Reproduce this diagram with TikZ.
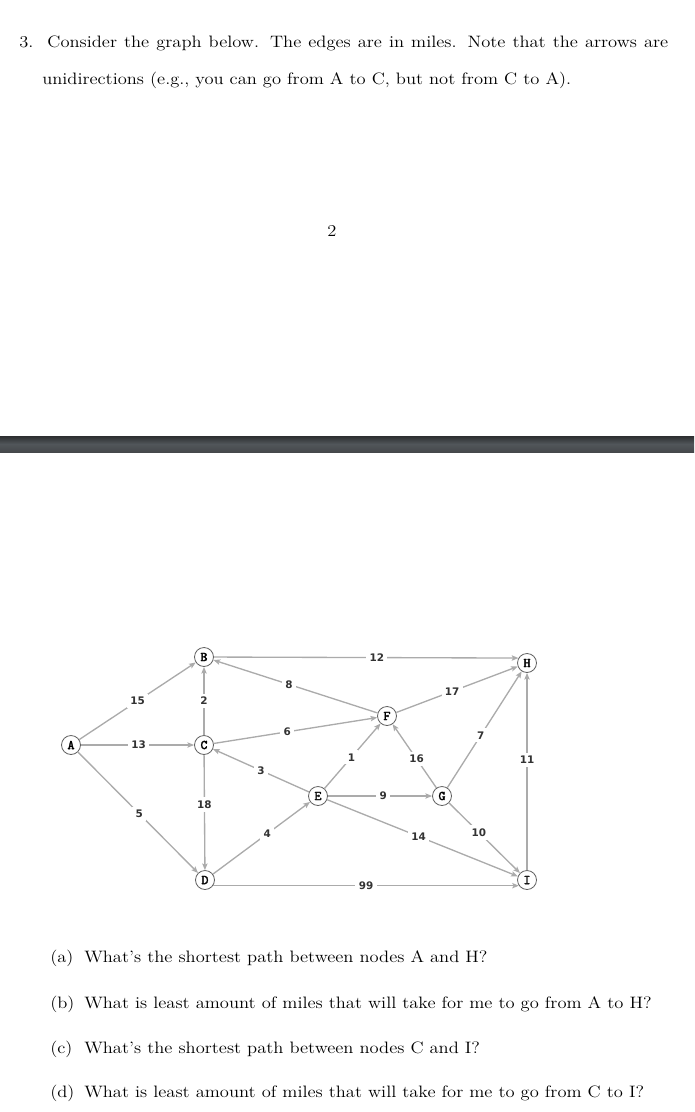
\documentclass[tikz,border=0pt]{standalone}
\usepackage{fontspec}
\newfontfamily\lblfont{DejaVu Sans}
\newfontfamily\bodyfont{Latin Modern Roman}[Ligatures=TeX,FakeStretch=1.12]
\newfontfamily\vfont{Latin Modern Mono}[FakeBold=2.5]
\usetikzlibrary{arrows.meta}
\definecolor{bartop}{HTML}{2C2E30}
\definecolor{barmid}{HTML}{51565A}
\definecolor{barbot}{HTML}{45484B}
\begin{document}
\begin{tikzpicture}[x=0.75pt,y=-0.75pt,
  vtx/.style={circle, draw=black!62, line width=0.6pt, fill=white, minimum size=14.25pt, inner sep=0pt,
    font=\vfont\fontsize{10}{10}\selectfont},
  edge/.style={draw=black!33, line width=1pt, -{Stealth[length=5pt,width=4pt,inset=1pt]}},
  wt/.style={fill=white, inner sep=2.5pt, font=\lblfont\bfseries\fontsize{7.8}{9}\selectfont, text=black!80},
  txt/.style={anchor=base west, inner sep=0pt, font=\bodyfont\fontsize{12.4}{14}\selectfont}]
\useasboundingbox (0,0) rectangle (694,1112);
% header text
\node[txt] (t1) at (19,47.5) {\makebox[486.75pt][s]{3.\ \ Consider the graph below.  The edges are in miles.  Note that the arrows are}};
\node[txt] (t2) at (42,85) {unidirections (e.g., you can go from A to C, but not from C to A).};
\node[anchor=base, inner sep=0pt, font=\bodyfont\fontsize{12.4}{14}\selectfont] (pg) at (332,237) {2};
% bar
\shade[top color=bartop, bottom color=barbot, middle color=barmid] (0,436) rectangle (694,452);
% vertices
\node[vtx] (A) at (71,745) {A};
\node[vtx] (B) at (204,657) {B};
\node[vtx] (C) at (204,745) {C};
\node[vtx] (D) at (205,880) {D};
\node[vtx] (E) at (318,796) {E};
\node[vtx] (F) at (387,716) {F};
\node[vtx] (G) at (442,796) {G};
\node[vtx] (H) at (527,663) {H};
\node[vtx] (I) at (527,880) {I};
% edges
\draw[edge] (A) -- node[wt,pos=.5]{15} (B);
\draw[edge] (A) -- node[wt,pos=.51]{13} (C);
\draw[edge] (A) -- node[wt,pos=.51]{5} (D);
\draw[edge] (C) -- node[wt,pos=.5]{2} (B);
\draw[edge] (F) -- node[wt,pos=.54]{8} (B);
\draw[edge] (C) -- node[wt,pos=.45]{6} (F);
\draw[edge] (E) -- node[wt,pos=.5]{3} (C);
\draw[edge] (C) -- node[wt,pos=.43]{18} (D);
\draw[edge] (D) -- node[wt,pos=.56]{4} (E);
\draw[edge] (B) -- node[wt,pos=.535]{12} (H.150);
\draw[edge] (F) -- node[wt,pos=.46]{17} (H);
\draw[edge] (E) -- node[wt,pos=.48]{1} (F);
\draw[edge] (G) -- node[wt,pos=.45]{16} (F);
\draw[edge] (E) -- node[wt,pos=.53]{9} (G);
\draw[edge] (G) -- node[wt,pos=.45]{7} (H);
\draw[edge] (G) -- node[wt,pos=.42]{10} (I);
\draw[edge] (E) -- node[wt,pos=.48]{14} (I);
\draw[edge] (D.-35) -- node[wt,pos=.5]{99} (I.-145);
\draw[edge] (I) -- node[wt,pos=.56]{11} (H);
% questions
\node[txt] (qa) at (50,962) {(a)};
\node[txt] (qat) at (84,962) {What's the shortest path between nodes A and H?};
\node[txt] (qb) at (50,1008) {(b)};
\node[txt] (qbt) at (84,1008) {What is least amount of miles that will take for me to go from A to H?};
\node[txt] (qc) at (50,1053) {(c)};
\node[txt] (qct) at (84,1053) {What's the shortest path between nodes C and I?};
\node[txt] (qd) at (50,1097) {(d)};
\node[txt] (qdt) at (84,1097) {What is least amount of miles that will take for me to go from C to I?};
\end{tikzpicture}
\end{document}
